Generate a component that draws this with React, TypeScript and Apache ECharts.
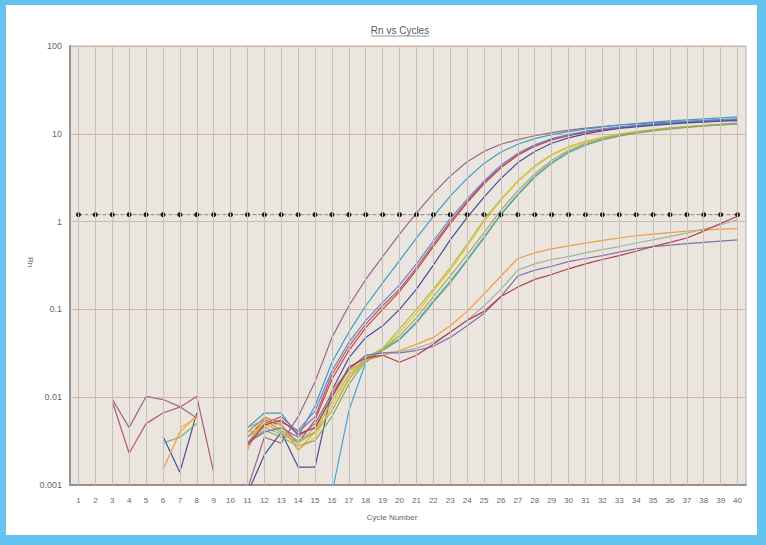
import React, { useEffect, useRef } from "react";
import * as echarts from "echarts";

const N = null;

const cycles = [
  "1", "2", "3", "4", "5", "6", "7", "8", "9", "10",
  "11", "12", "13", "14", "15", "16", "17", "18", "19", "20",
  "21", "22", "23", "24", "25", "26", "27", "28", "29", "30",
  "31", "32", "33", "34", "35", "36", "37", "38", "39", "40",
];

const yTicks = ["0.001", "0.01", "0.1", "1", "10", "100"];

const threshold = 1.2;

const mauve = [N, N, 0.0095, 0.0045, 0.0102, 0.0094, 0.0078, 0.0058, N, N,
  0.0009, 0.0035, 0.003, 0.006, 0.015, 0.048, 0.11, 0.22, 0.4, 0.72,
  1.25, 2.1, 3.3, 4.8, 6.3, 7.6, 8.6, 9.5, 10.3, 11,
  11.6, 12.1, 12.6, 13, 13.3, 13.6, 13.9, 14.1, 14.3, 14.5];

const teal = [N, N, N, N, N, N, N, N, N, N,
  0.0045, 0.0066, 0.0066, 0.0036, 0.008, 0.025, 0.055, 0.11, 0.2, 0.36,
  0.65, 1.15, 1.95, 3.1, 4.6, 6.2, 7.6, 8.8, 9.8, 10.6,
  11.3, 12, 12.6, 13.1, 13.6, 14, 14.4, 14.8, 15.2, 15.6];

const rose = [N, N, 0.009, 0.0023, 0.005, 0.0066, 0.0077, 0.0102, 0.0014, N,
  0.003, 0.005, 0.006, 0.004, 0.006, 0.018, 0.038, 0.068, 0.11, 0.17,
  0.3, 0.55, 1.0, 1.7, 2.8, 4.2, 5.8, 7.3, 8.6, 9.6,
  10.5, 11.2, 11.8, 12.3, 12.8, 13.2, 13.6, 14, 14.3, 14.6];

const red = [N, N, N, N, N, N, N, N, N, N,
  0.0035, 0.0055, 0.0048, 0.003, 0.0055, 0.016, 0.034, 0.062, 0.1, 0.16,
  0.28, 0.52, 0.95, 1.65, 2.7, 4.1, 5.7, 7.2, 8.5, 9.5,
  10.4, 11.1, 11.7, 12.2, 12.7, 13.1, 13.5, 13.8, 14.1, 14.4];

const navy = [N, N, N, N, N, 0.0036, 0.0014, 0.0066, N, N,
  0.0008, 0.0022, 0.004, 0.0016, 0.0016, 0.012, 0.028, 0.048, 0.065, 0.1,
  0.17, 0.32, 0.62, 1.12, 1.9, 3.1, 4.7, 6.3, 7.8, 9,
  10, 10.8, 11.5, 12, 12.5, 12.9, 13.3, 13.6, 13.9, 14.1];

const blue = [N, N, N, N, N, N, N, N, N, N,
  0.004, 0.0058, 0.0052, 0.0042, 0.007, 0.02, 0.042, 0.075, 0.12, 0.19,
  0.33, 0.6, 1.08, 1.8, 2.9, 4.4, 6, 7.5, 8.8, 9.8,
  10.7, 11.4, 12, 12.5, 13, 13.4, 13.8, 14.2, 14.5, 14.8];

const lime = [N, N, N, N, N, N, N, N, N, N,
  0.0035, 0.005, 0.004, 0.003, 0.004, 0.009, 0.018, 0.028, 0.036, 0.06,
  0.1, 0.17, 0.3, 0.55, 1.05, 1.8, 2.9, 4.3, 5.8, 7.1,
  8.2, 9.1, 9.9, 10.6, 11.2, 11.7, 12.1, 12.5, 12.8, 13.1];

const yellow = [N, N, N, N, N, N, 0.0045, 0.0058, N, N,
  0.004, 0.0045, 0.005, 0.0025, 0.0035, 0.008, 0.017, 0.027, 0.034, 0.055,
  0.09, 0.16, 0.28, 0.52, 1.0, 1.75, 2.85, 4.2, 5.7, 7,
  8.1, 9, 9.8, 10.5, 11.1, 11.6, 12, 12.4, 12.7, 13];

const green = [N, N, N, N, N, 0.003, 0.0035, 0.005, N, N,
  0.003, 0.0042, 0.0035, 0.0028, 0.0032, 0.006, 0.014, 0.026, 0.034, 0.045,
  0.07, 0.12, 0.2, 0.36, 0.65, 1.2, 2.0, 3.2, 4.6, 6.1,
  7.4, 8.5, 9.4, 10.2, 10.8, 11.3, 11.8, 12.2, 12.6, 12.9];

const skyLate = [N, N, N, N, N, N, N, N, N, N,
  N, N, N, N, N, 0.0008, 0.007, 0.025, 0.035, 0.046,
  0.072, 0.125, 0.21, 0.37, 0.67, 1.22, 2.05, 3.3, 4.7, 6.2,
  7.5, 8.6, 9.5, 10.3, 10.9, 11.5, 12, 12.4, 12.8, 13.2];

const olive = [N, N, N, N, N, N, N, N, N, N,
  0.0045, 0.0055, 0.0042, 0.0032, 0.004, 0.007, 0.016, 0.027, 0.035, 0.05,
  0.08, 0.14, 0.24, 0.42, 0.75, 1.35, 2.25, 3.5, 5, 6.5,
  7.8, 8.8, 9.7, 10.4, 11, 11.5, 11.9, 12.3, 12.6, 12.9];

const orange = [N, N, N, N, N, 0.0015, 0.004, 0.0062, N, N,
  0.0025, 0.006, 0.005, 0.0025, 0.004, 0.012, 0.02, 0.026, 0.03, 0.034,
  0.04, 0.048, 0.065, 0.095, 0.15, 0.24, 0.38, 0.44, 0.49, 0.53,
  0.57, 0.61, 0.65, 0.69, 0.72, 0.75, 0.78, 0.8, 0.82, 0.83];

const sage = [N, N, N, N, N, N, N, N, N, N,
  0.0035, 0.0045, 0.0038, 0.003, 0.0045, 0.01, 0.02, 0.03, 0.032, 0.033,
  0.036, 0.042, 0.055, 0.075, 0.11, 0.17, 0.28, 0.33, 0.37, 0.4,
  0.44, 0.48, 0.52, 0.57, 0.62, 0.68, 0.74, 0.82, 0.92, 1.05];

const lavender = [N, N, N, N, N, N, N, N, N, N,
  0.003, 0.004, 0.0045, 0.0035, 0.005, 0.011, 0.021, 0.03, 0.032, 0.032,
  0.034, 0.038, 0.048, 0.065, 0.09, 0.14, 0.24, 0.28, 0.31, 0.35,
  0.38, 0.41, 0.45, 0.49, 0.52, 0.54, 0.56, 0.58, 0.6, 0.62];

const maroon = [N, N, N, N, N, N, N, N, N, N,
  0.0028, 0.0048, 0.0055, 0.0038, 0.0045, 0.01, 0.022, 0.028, 0.03, 0.025,
  0.03, 0.04, 0.055, 0.075, 0.095, 0.14, 0.18, 0.22, 0.25, 0.29,
  0.33, 0.37, 0.41, 0.46, 0.52, 0.58, 0.65, 0.78, 0.95, 1.15];

const curves: { name: string; data: (number | null)[]; color: string }[] = [
  { name: "A1", data: mauve, color: "#9a6a8c" },
  { name: "A2", data: teal, color: "#3c9ec6" },
  { name: "A3", data: rose, color: "#b8586e" },
  { name: "A4", data: red, color: "#cc4444" },
  { name: "A5", data: navy, color: "#4a4e98" },
  { name: "A6", data: blue, color: "#5a8cd0" },
  { name: "B1", data: lime, color: "#a8c040" },
  { name: "B2", data: yellow, color: "#e6c43a" },
  { name: "B3", data: green, color: "#7eb052" },
  { name: "B4", data: skyLate, color: "#44a6d8" },
  { name: "B5", data: olive, color: "#b4a84a" },
  { name: "C1", data: orange, color: "#f09c3c" },
  { name: "C2", data: sage, color: "#a2b39a" },
  { name: "C3", data: lavender, color: "#8070b0" },
  { name: "C4", data: maroon, color: "#b43a4c" },
];

const FONT = "Liberation Sans, Arial, sans-serif";

export default function App() {
  const ref = useRef<HTMLDivElement>(null);
  useEffect(() => {
    document.body.style.margin = "0";
    const chart = echarts.init(ref.current!, null, { renderer: "svg" });
    const lineSeries = curves.map((c) => ({
      name: c.name,
      type: "line",
      data: c.data,
      showSymbol: false,
      symbol: "none",
      connectNulls: false,
      clip: true,
      z: 3,
      lineStyle: { color: c.color, width: 1.2 },
      itemStyle: { color: c.color },
    }));
    chart.setOption({
      animation: false,
      backgroundColor: "#63c3ee",
      textStyle: { fontFamily: FONT },
      graphic: [
        {
          type: "rect",
          shape: { x: 6, y: 5, width: 751, height: 530 },
          style: { fill: "#ffffff" },
          z: -10,
          silent: true,
        },
        {
          type: "text",
          x: 400,
          y: 30,
          style: {
            text: "Rn vs Cycles",
            fontSize: 10,
            fontFamily: FONT,
            fill: "#5a5a5a",
            textAlign: "center",
            textVerticalAlign: "middle",
          },
        },
        {
          type: "line",
          shape: { x1: 371, y1: 36, x2: 429, y2: 36 },
          style: { stroke: "#7a7a7a", lineWidth: 0.8 },
        },
        {
          type: "text",
          x: 30,
          y: 262,
          rotation: -Math.PI / 2,
          style: {
            text: "Rn",
            fontSize: 8,
            fontFamily: FONT,
            fill: "#666",
            textAlign: "center",
            textVerticalAlign: "middle",
          },
        },
        {
          type: "text",
          x: 392,
          y: 517,
          style: {
            text: "Cycle Number",
            fontSize: 8,
            fontFamily: FONT,
            fill: "#666",
            textAlign: "center",
            textVerticalAlign: "middle",
          },
        },
      ],
      grid: {
        left: 70,
        top: 46,
        right: 20,
        bottom: 60,
        show: true,
        backgroundColor: "#ebe5df",
        borderColor: "#b4aca4",
        borderWidth: 1,
      },
      xAxis: {
        type: "category",
        data: cycles,
        boundaryGap: true,
        axisLine: { show: true, lineStyle: { color: "#9a928a", width: 2 } },
        axisTick: { show: false },
        splitLine: { show: false },
        axisLabel: { interval: 0, fontSize: 8, color: "#666", margin: 11, fontFamily: FONT },
      },
      yAxis: {
        type: "log",
        logBase: 10,
        min: 0.001,
        max: 100,
        axisLine: { show: true, lineStyle: { color: "#9a928a", width: 2 } },
        axisTick: { show: false },
        splitLine: { show: true, lineStyle: { color: "#d8b6a6", width: 1 } },
        axisLabel: {
          fontSize: 9,
          color: "#666",
          margin: 8,
          fontFamily: FONT,
          formatter: (v: number) => {
            const s = String(Number(v.toPrecision(3)));
            return yTicks.includes(s) ? s : "";
          },
        },
      },
      series: [
        {
          name: "vgrid",
          type: "line",
          data: [],
          z: 1,
          silent: true,
          markLine: {
            silent: true,
            symbol: ["none", "none"],
            label: { show: false },
            lineStyle: { color: "#c8c0b9", type: "solid", width: 1 },
            data: cycles.map((c) => ({ xAxis: c })),
          },
        },
        ...lineSeries,
        {
          name: "threshold",
          type: "line",
          data: cycles.map(() => threshold),
          z: 4,
          symbol: "circle",
          symbolSize: 5,
          showSymbol: true,
          lineStyle: { color: "#8a8a8a", type: "dashed", width: 1 },
          itemStyle: { color: "#1a1a1a", borderColor: "#1a1a1a", borderWidth: 0 },
        },
      ],
    });
    return () => chart.dispose();
  }, []);
  return <div ref={ref} style={{ width: 766, height: 545 }} />;
}
